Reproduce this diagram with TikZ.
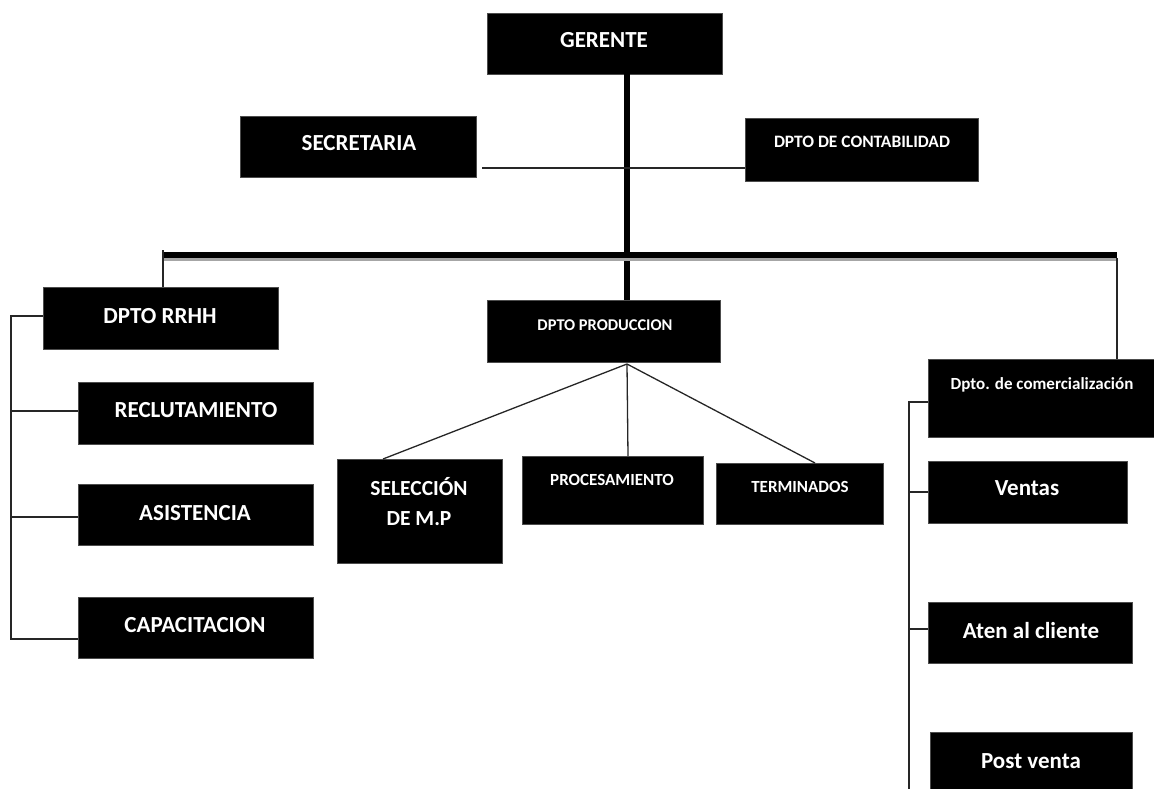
\documentclass[tikz,border=0pt]{standalone}
\usepackage{fontspec}
\setmainfont{Carlito}
\begin{document}
\begin{tikzpicture}[x=1pt,y=-1pt,
  box/.style={draw=black!70,line width=0.8pt,fill=black,inner sep=0pt,anchor=center},
  lbl/.style={text=white,inner sep=0pt,anchor=base,align=center},
  big/.style={lbl,font=\bfseries\fontsize{23}{27}\selectfont},
  small/.style={lbl,font=\bfseries\fontsize{17}{20}\selectfont},
  thin/.style={draw=black!85,line width=1.3pt},
  thick/.style={draw=black,line width=6pt}]
\useasboundingbox (0,0) rectangle (1154,789);
% boxes
\node[box,minimum width=235,minimum height=61] (ger) at (604.5,43.5) {};
\node[box,minimum width=236,minimum height=61] (sec) at (358,146.5) {};
\node[box,minimum width=233,minimum height=63] (cont) at (861.5,149.5) {};
\node[box,minimum width=235,minimum height=62] (rrhh) at (160.5,318) {};
\node[box,minimum width=235,minimum height=62] (recl) at (195.5,413) {};
\node[box,minimum width=235,minimum height=61] (asis) at (195.5,514.5) {};
\node[box,minimum width=235,minimum height=61] (capa) at (195.5,627.5) {};
\node[box,minimum width=233,minimum height=62] (prod) at (603.5,331) {};
\node[box,minimum width=165,minimum height=104] (sel) at (419.5,511) {};
\node[box,minimum width=181,minimum height=68] (proc) at (612.5,490) {};
\node[box,minimum width=167,minimum height=61] (term) at (799.5,493.5) {};
\node[box,minimum width=232,minimum height=78] (com) at (1044,398) {};
\node[box,minimum width=199,minimum height=62] (ven) at (1027.5,492) {};
\node[box,minimum width=204,minimum height=61] (aten) at (1030,632.5) {};
\node[box,minimum width=202,minimum height=64] (post) at (1031,764) {};
% labels
\node[big] (tger) at (604,48) {GERENTE};
\node[big] (tsec) at (359,150) {SECRETARIA};
\node[lbl,font=\bfseries\fontsize{17.4}{20}\selectfont] (tcont) at (862,148) {DPTO DE CONTABILIDAD};
\node[big] (trrhh) at (160,323) {DPTO RRHH};
\node[big] (trecl) at (196,417) {RECLUTAMIENTO};
\node[big] (tasis) at (195,520) {ASISTENCIA};
\node[big] (tcapa) at (195,632) {CAPACITACION};
\node[lbl,font=\bfseries\fontsize{16.4}{20}\selectfont] (tprod) at (605,330) {DPTO PRODUCCION};
\node[lbl,font=\bfseries\fontsize{21.5}{30}\selectfont] (tsel) at (419,525) {SELECCIÓN\\DE M.P};
\node[small] (tproc) at (612,485) {PROCESAMIENTO};
\node[small] (tterm) at (800,492) {TERMINADOS};
\node[small] (tcom) at (1042,389) {Dpto. de comercialización};
\node[big] (tven) at (1027,495) {Ventas};
\node[big] (taten) at (1031,638) {Aten al cliente};
\node[big] (tpost) at (1031,768) {Post venta};
% thick main lines
\coordinate (g1) at (627,74);
\draw[thick] (g1) -- (g1 |- prod.north);
\coordinate (b1) at (163,255);
\coordinate (b2) at (1117,255);
\draw[draw=black!35,line width=2.5pt] (163,259.3) -- (1117,259.3);
\draw[thick] (b1) -- (b2);
% secretaria - contabilidad
\coordinate (s1) at (482,168);
\draw[thin] (s1) -- (s1 -| cont.west);
% drops
\coordinate (d1) at (163,250);
\draw[thin] (d1) -- (d1 |- rrhh.north);
\coordinate (d2) at (1117,258);
\draw[thin] (d2) -- (d2 |- com.north);
% RRHH bracket
\coordinate (l1) at (11,316);
\coordinate (l2) at (11,639);
\draw[thin] (l1 -| rrhh.west) -- (l1) -- (l2) -- (l2 -| capa.west);
\coordinate (l3) at (11,411);
\draw[thin] (l3) -- (l3 -| recl.west);
\coordinate (l4) at (11,517);
\draw[thin] (l4) -- (l4 -| asis.west);
% produccion
\coordinate (p0) at (627,364);
\coordinate (p1) at (383,459);
\coordinate (p2) at (628,456);
\coordinate (p3) at (815,463);
\draw[thin] (p0) -- (p1);
\draw[thin] (p0) -- (p2);
\draw[thin] (p0) -- (p3);
% comercializacion bracket
\coordinate (r1) at (909,402);
\coordinate (r2) at (909,792);
\draw[thin] (r1 -| com.west) -- (r1) -- (r2);
\coordinate (r3) at (909,492);
\draw[thin] (r3) -- (r3 -| ven.west);
\coordinate (r4) at (909,629);
\draw[thin] (r4) -- (r4 -| aten.west);
\end{tikzpicture}
\end{document}
